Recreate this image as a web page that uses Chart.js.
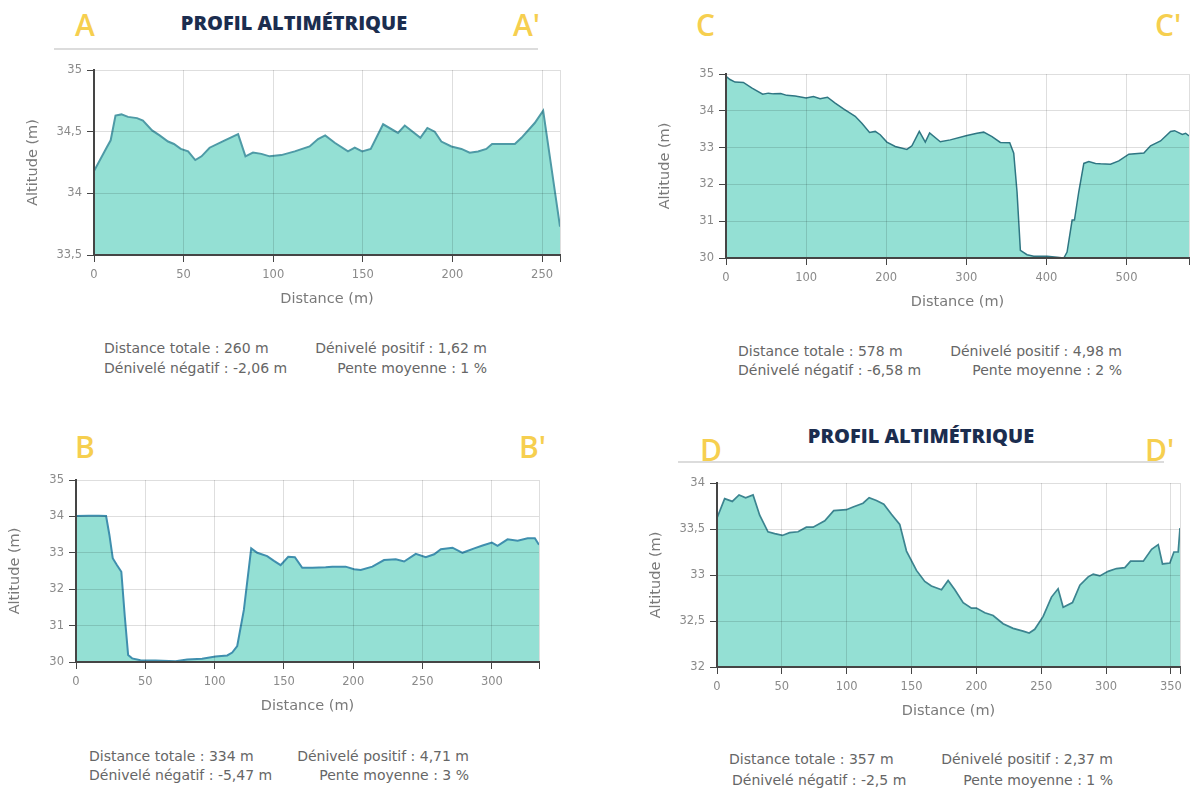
<!DOCTYPE html>
<html lang="fr">
<head>
<meta charset="utf-8">
<title>Profils altimétriques</title>
<script src="https://cdn.jsdelivr.net/npm/chart.js@4.4.0/dist/chart.umd.min.js"></script>
<style>
  html, body { margin: 0; padding: 0; background: #ffffff; }
  body { position: relative; width: 1196px; height: 794px; overflow: hidden; }
  canvas { position: absolute; }
  .letter { position: absolute; font-family: "Open Sans", sans-serif; font-weight: 600; font-size: 30px; line-height: 1; color: #f6cf4f; white-space: nowrap; }
  .title { position: absolute; font-family: "Open Sans", sans-serif; font-weight: 800; font-size: 20px; line-height: 1; color: #1b2d4f; white-space: nowrap; transform: translateX(-50%); }
  .rule { position: absolute; height: 2px; background: #dcdcdc; }
  .stat { position: absolute; font-family: "DejaVu Sans", Verdana, sans-serif; font-size: 14px; line-height: 16px; color: #666666; white-space: nowrap; }
  .stat.r { text-align: right; width: 320px; }
</style>
</head>
<body>

<!-- Profil A - A' -->
<div class="letter" style="left:75px; top:10px;">A</div>
<div class="letter" style="left:513px; top:10px;">A'</div>
<div class="title" style="left:294px; top:13px;">PROFIL ALTIMÉTRIQUE</div>
<div class="rule" style="left:54px; top:48px; width:484px;"></div>
<canvas id="chartA" width="600" height="255" style="left:0px; top:55px;"></canvas>
<div class="stat" style="left:104px; top:340px;">Distance totale : 260 m</div>
<div class="stat r" style="left:167px; top:340px;">Dénivelé positif : 1,62 m</div>
<div class="stat" style="left:104px; top:360px;">Dénivelé négatif : -2,06 m</div>
<div class="stat r" style="left:167px; top:360px;">Pente moyenne : 1 %</div>

<!-- Profil C - C' -->
<div class="letter" style="left:696px; top:10px;">C</div>
<div class="letter" style="left:1155px; top:10px;">C'</div>
<canvas id="chartC" width="596" height="254" style="left:600px; top:59px;"></canvas>
<div class="stat" style="left:738px; top:343px;">Distance totale : 578 m</div>
<div class="stat r" style="left:802px; top:343px;">Dénivelé positif : 4,98 m</div>
<div class="stat" style="left:738px; top:362px;">Dénivelé négatif : -6,58 m</div>
<div class="stat r" style="left:802px; top:362px;">Pente moyenne : 2 %</div>

<!-- Profil B - B' -->
<div class="letter" style="left:75px; top:432px;">B</div>
<div class="letter" style="left:519px; top:432px;">B'</div>
<canvas id="chartB" width="600" height="252" style="left:0px; top:465px;"></canvas>
<div class="stat" style="left:89px; top:748px;">Distance totale : 334 m</div>
<div class="stat r" style="left:149px; top:748px;">Dénivelé positif : 4,71 m</div>
<div class="stat" style="left:89px; top:767px;">Dénivelé négatif : -5,47 m</div>
<div class="stat r" style="left:149px; top:767px;">Pente moyenne : 3 %</div>

<!-- Profil D - D' -->
<div class="letter" style="left:700px; top:435px;">D</div>
<div class="letter" style="left:1145px; top:435px;">D'</div>
<div class="title" style="left:921px; top:426px;">PROFIL ALTIMÉTRIQUE</div>
<div class="rule" style="left:678px; top:461px; width:486px;"></div>
<canvas id="chartD" width="596" height="254" style="left:600px; top:468px;"></canvas>
<div class="stat" style="left:729px; top:751px;">Distance totale : 357 m</div>
<div class="stat r" style="left:793px; top:751px;">Dénivelé positif : 2,37 m</div>
<div class="stat" style="left:732px; top:772px;">Dénivelé négatif : -2,5 m</div>
<div class="stat r" style="left:793px; top:772px;">Pente moyenne : 1 %</div>

<script>
// ---- Profil A - A' : distance (m) / altitude (m)
const distA = [0, 7, 9.3, 12, 15.3, 19, 24, 27.3, 32.4, 36.6, 41.3, 44.6, 48.4, 52.5, 56.5, 60, 64.5, 73, 80.4, 84.5, 88.7, 93.4, 98, 104.5, 112, 120.3, 125, 129, 134.3, 141.7, 145.5, 149.6, 154.4, 161.3, 169.6, 173.4, 182.1, 186, 190.1, 193.8, 199.4, 205, 209.6, 214.3, 218.9, 222.1, 228.2, 234.8, 238.5, 245.9, 250.6, 260];
const altA = [34.18, 34.37, 34.43, 34.63, 34.64, 34.62, 34.61, 34.59, 34.51, 34.47, 34.42, 34.40, 34.36, 34.34, 34.27, 34.30, 34.37, 34.43, 34.48, 34.30, 34.33, 34.32, 34.30, 34.31, 34.34, 34.38, 34.44, 34.47, 34.41, 34.34, 34.37, 34.34, 34.36, 34.56, 34.49, 34.55, 34.45, 34.53, 34.50, 34.42, 34.38, 34.36, 34.33, 34.34, 34.36, 34.40, 34.40, 34.40, 34.45, 34.57, 34.67, 33.73];
const yTicksA = [33.5, 34, 34.5, 35];
const xTicksA = [0, 50, 100, 150, 200, 250];

// ---- Profil C - C'
const distC = [0, 5, 11.3, 21.7, 32, 45.8, 52.9, 59.2, 68.3, 75.8, 86.3, 100, 109.2, 117.5, 126.7, 136.3, 146.7, 161.3, 169.6, 179.2, 186.3, 192.5, 200.8, 211.3, 225.8, 232.1, 241.3, 248.8, 254.2, 267.5, 280, 300.8, 313.3, 321.7, 332.1, 342.5, 354.2, 359.2, 363.3, 367.5, 375.8, 384.2, 400.8, 413.3, 421.7, 425.8, 432.1, 435, 440.4, 446.7, 452.9, 461.3, 467.5, 480, 490.4, 502.9, 521.7, 530, 542.5, 555, 560, 569.6, 573.8, 578];
const altC = [34.94, 34.85, 34.78, 34.77, 34.62, 34.45, 34.48, 34.46, 34.47, 34.42, 34.40, 34.35, 34.39, 34.33, 34.37, 34.21, 34.05, 33.85, 33.66, 33.41, 33.44, 33.35, 33.15, 33.03, 32.95, 33.05, 33.44, 33.15, 33.40, 33.16, 33.21, 33.33, 33.39, 33.42, 33.30, 33.14, 33.13, 32.85, 31.80, 30.21, 30.09, 30.05, 30.05, 30.02, 30.0, 30.16, 31.03, 31.03, 31.80, 32.57, 32.62, 32.57, 32.56, 32.55, 32.64, 32.82, 32.85, 33.05, 33.18, 33.44, 33.46, 33.36, 33.39, 33.32];
const yTicksC = [30, 31, 32, 33, 34, 35];
const xTicksC = [0, 100, 200, 300, 400, 500];

// ---- Profil B - B'
const distB = [0, 9, 16.4, 21.7, 24.1, 26.5, 29.6, 32.7, 35.2, 37.6, 40.5, 46.5, 57.3, 71.8, 80.2, 91, 100.6, 109.1, 112.7, 116.3, 121.1, 126.4, 130.7, 137.9, 142.8, 147.6, 153.1, 157.9, 163.2, 170.5, 180.1, 184.9, 194.5, 200.6, 205.4, 213.8, 222.2, 230.7, 236.7, 245.1, 252.3, 258.4, 263.2, 271.6, 278.8, 287.3, 293.3, 300, 304.1, 311.3, 318.6, 325.8, 331, 334];
const altB = [34.01, 34.02, 34.02, 34.01, 33.49, 32.85, 32.66, 32.48, 31.25, 30.19, 30.10, 30.05, 30.04, 30.02, 30.07, 30.09, 30.15, 30.18, 30.26, 30.44, 31.43, 33.12, 33.0, 32.91, 32.78, 32.66, 32.89, 32.88, 32.59, 32.59, 32.60, 32.62, 32.62, 32.55, 32.53, 32.62, 32.80, 32.82, 32.76, 32.97, 32.88, 32.96, 33.10, 33.14, 33.0, 33.12, 33.20, 33.28, 33.19, 33.37, 33.33, 33.40, 33.40, 33.22];
const yTicksB = [30, 31, 32, 33, 34, 35];
const xTicksB = [0, 50, 100, 150, 200, 250, 300];

// ---- Profil D - D'
const distD = [0, 5.9, 11.8, 17, 22.1, 27.8, 32.9, 39.3, 44.5, 50.4, 56, 62.5, 68.9, 74.1, 83.1, 90, 99.8, 104.9, 112.6, 117.3, 122.9, 128.6, 134.5, 140.9, 146.1, 153.8, 160.2, 165.3, 173.1, 178.2, 183.4, 189.8, 196.2, 200, 206.5, 212.9, 220.6, 228.3, 236, 240.7, 245, 251.5, 257.9, 263, 266.9, 274.1, 279.8, 286.2, 290.1, 295.2, 301.6, 308, 314.5, 318.9, 328.7, 335.1, 340.2, 343.5, 349.2, 352.3, 355.6, 357];
const altD = [33.62, 33.83, 33.80, 33.87, 33.84, 33.87, 33.65, 33.47, 33.45, 33.43, 33.46, 33.47, 33.52, 33.52, 33.59, 33.70, 33.71, 33.74, 33.78, 33.84, 33.81, 33.77, 33.66, 33.55, 33.26, 33.05, 32.93, 32.88, 32.84, 32.94, 32.84, 32.70, 32.64, 32.64, 32.59, 32.56, 32.47, 32.42, 32.39, 32.37, 32.41, 32.55, 32.76, 32.85, 32.65, 32.70, 32.89, 32.98, 33.01, 32.99, 33.04, 33.07, 33.08, 33.15, 33.15, 33.28, 33.33, 33.12, 33.13, 33.25, 33.25, 33.51];
const yTicksD = [32, 32.5, 33, 33.5, 34];
const xTicksD = [0, 50, 100, 150, 200, 250, 300, 350];

// ---- shared styling
const FILL = '#94e0d4';
const GRID = 'rgba(0, 0, 0, 0.13)';
const AXIS = '#454545';
const TICK_TXT = '#8a8a8a';
const TITLE_TXT = '#7a7a7a';
const FONT = '"DejaVu Sans", Verdana, sans-serif';

const fmt = v => String(v).replace('.', ',');

function drawProfile(id, dist, alt, xTicks, yTicks, xEnd, look) {
  const points = dist.map((d, i) => ({ x: d, y: alt[i] }));
  new Chart(document.getElementById(id), {
    type: 'line',
    data: {
      datasets: [{
        data: points,
        fill: 'start',
        backgroundColor: FILL,
        borderColor: look.line,
        borderWidth: look.lineWidth,
        pointRadius: 0,
        tension: 0
      }]
    },
    options: {
      responsive: false,
      animation: false,
      devicePixelRatio: 1,
      layout: { padding: { top: 15, right: look.padRight, left: 0, bottom: 0 } },
      plugins: { legend: { display: false }, tooltip: { enabled: false } },
      scales: {
        x: {
          type: 'linear',
          min: 0,
          max: xEnd,
          afterFit: s => { s.height = 55; },
          // labelled ticks plus an unlabelled closing tick at the total distance
          afterBuildTicks: s => { s.ticks = xTicks.concat([xEnd]).map(v => ({ value: v })); },
          ticks: {
            autoSkip: false,
            maxRotation: 0,
            padding: 6,
            color: TICK_TXT,
            font: { family: FONT, size: 11.5 },
            callback: v => (xTicks.includes(v) ? String(v) : '')
          },
          grid: { color: GRID, tickColor: AXIS, tickLength: 7, z: 1 },
          border: { color: AXIS, width: 2, z: 2 },
          title: {
            display: true,
            text: 'Distance (m)',
            color: TITLE_TXT,
            font: { family: FONT, size: 14.5 },
            padding: { top: 0, bottom: 2 }
          }
        },
        y: {
          type: 'linear',
          min: yTicks[0],
          max: yTicks[yTicks.length - 1],
          afterFit: s => { s.width = look.yWidth; },
          afterBuildTicks: s => { s.ticks = yTicks.map(v => ({ value: v })); },
          ticks: {
            autoSkip: false,
            padding: 5,
            color: TICK_TXT,
            font: { family: FONT, size: 11.5 },
            callback: v => fmt(v)
          },
          grid: { color: GRID, tickColor: AXIS, tickLength: 7, z: 1 },
          border: { color: AXIS, width: 2, z: 2 },
          title: {
            display: true,
            text: 'Altitude (m)',
            color: TITLE_TXT,
            font: { family: FONT, size: 14.5 },
            padding: { top: look.yWidth - 61 - 8.7, bottom: 0 }
          }
        }
      }
    }
  });
}

drawProfile('chartA', distA, altA, xTicksA, yTicksA, 260, { line: '#4e9aa6', lineWidth: 2, yWidth: 94, padRight: 40 });
drawProfile('chartC', distC, altC, xTicksC, yTicksC, 578, { line: '#2f7683', lineWidth: 1.5, yWidth: 126, padRight: 7 });
drawProfile('chartB', distB, altB, xTicksB, yTicksB, 334, { line: '#3f8fae', lineWidth: 2, yWidth: 76, padRight: 61 });
drawProfile('chartD', distD, altD, xTicksD, yTicksD, 357, { line: '#3c8490', lineWidth: 1.7, yWidth: 117, padRight: 16 });
</script>
</body>
</html>
